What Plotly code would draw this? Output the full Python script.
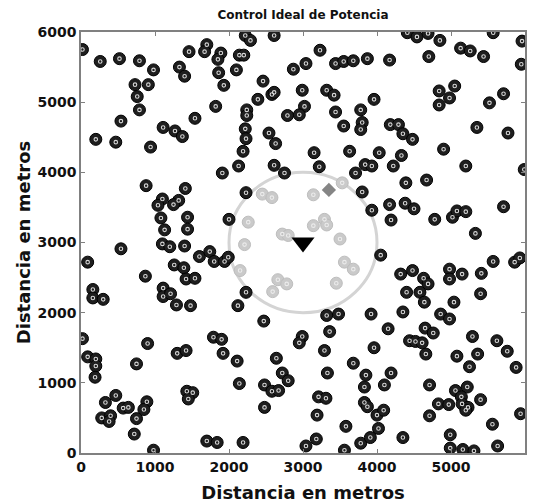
import plotly.graph_objects as go

# Usuarios fuera de la celda (negro)
users_x = [20,260,520,790,980,730,910,760,790,540,200,470,940,1110,1270,1370,1540,1820,1330,1400,1460,1700,1670,1890,1850,1860,1930,
           2220,2290,2610,2140,2200,2100,3230,3040,2870,3440,3550,3680,3870,2460,2580,2610,2390,2990,3320,3420,3960,2240,2240,3020,2950,2790,3440,3780,3800,3780,3550,2220,2230,2540,2630,2190,3150,3630,4030,2130,2610,3220,3840,3930,
           4410,4540,4690,4850,5570,5960,5950,5130,5260,5440,4700,4170,4840,5050,4980,4840,5520,5710,4180,4290,4350,4480,5350,5770,4330,4900,4220,5200,5990,
           1910,880,1410,1100,1040,1320,1250,1080,1440,2000,1130,1440,540,90,1100,1200,1400,1600,1740,1800,1940,1990,1260,1390,1420,1540,870,160,160,300,1110,1110,1210,1290,1480,
           2750,3710,2230,3800,3930,4050,2230,2120,
           4390,4670,4170,4380,4500,4190,4780,5020,5080,5200,5710,5330,5570,5860,5930,4320,4480,4630,4690,4980,4980,5150,5410,4400,4580,4640,5040,5400,
           20,90,200,200,190,900,750,1300,1420,1790,1900,1920,470,330,570,640,890,850,280,400,380,750,720,980,1430,1510,1450,1700,1840,
           2470,3320,3480,3920,3360,2990,2950,2110,2640,3290,3960,3680,2720,2800,3330,3850,2140,2480,2580,2670,3830,3210,3310,3830,3870,2480,3190,4000,3580,4020,2190,3040,3180,3780,3910,3560,
           4350,4860,4980,4150,4650,4760,4440,4520,4610,5290,5620,5760,5360,5080,4660,5250,5880,4190,4100,4710,5060,5220,5140,4830,4970,5150,5230,5200,5400,5940,5560,4090,4710,4350,4990,4990,5160,5310,5630]
users_y = [5750,5580,5620,5590,5460,5250,5250,5080,4890,4730,4470,4430,4360,4640,4590,4510,4770,4940,5500,5370,5720,5820,5720,5700,5610,5420,5240,
           5950,5880,5950,5670,5670,5460,5740,5550,5470,5550,5580,5590,5620,5300,5110,5140,5040,5170,5170,5100,5040,4890,4810,4940,4820,4810,4860,4890,4710,4610,4660,4620,4480,4560,4410,4300,4280,4300,4280,4090,4100,4080,4110,4090,
           5990,5930,5980,5880,5990,5870,5540,5770,5730,5650,5650,5600,5160,5230,5060,4960,4990,5120,4680,4680,4550,4470,4640,4560,4240,4330,4090,4090,4040,
           3990,3810,3770,3620,3530,3600,3540,3350,3360,3330,3180,3190,2910,2720,2980,2940,2950,2800,2870,2730,2730,2790,2680,2640,2480,2490,2520,2330,2210,2190,2350,2230,2270,2110,2100,
           3990,3990,3710,3720,3460,2820,2290,2100,
           3850,3890,3540,3560,3480,3320,3330,3360,3450,3440,3510,3130,2730,2720,2780,2550,2600,2490,2410,2620,2480,2550,2560,2290,2290,2150,2150,2270,
           1630,1370,1340,1240,1080,1560,1270,1420,1460,1650,1620,1420,820,720,640,650,730,620,500,530,450,490,270,40,880,860,770,170,150,
           1880,1960,1980,1980,1730,1660,1570,1310,1350,1460,1500,1280,1140,1030,1140,1110,990,970,880,890,940,800,780,720,660,650,540,540,380,350,150,100,200,140,220,40,
           2010,1980,1910,1770,1780,1710,1600,1590,1570,1660,1600,1450,1410,1380,1410,1230,1220,1140,970,970,890,940,800,700,690,700,650,610,760,560,410,610,530,220,260,70,50,30,100]

# Usuarios dentro de la celda (gris claro)
cell_x = [2450,2580,3140,3530,2260,3140,3290,3320,2720,2800,2210,3500,2150,3560,3680,2660,2780,2590,3450]
cell_y = [3690,3640,3680,3850,3290,3240,3330,3250,3120,3100,2970,3050,2600,2720,2620,2470,2410,2300,2420]

# Estación base y usuario de referencia
bs_x, bs_y = [3000], [3000]
ref_x, ref_y = [3350], [3750]
cell_radius = 1000

tick_vals = [0, 1000, 2000, 3000, 4000, 5000, 6000]
tick_text = ["0", "1000", "2000", "3000", "4000", "5000", "6000"]

FONT = "DejaVu Sans"

fig = go.Figure()

fig.add_shape(type="circle", xref="x", yref="y",
              x0=bs_x[0]-cell_radius, x1=bs_x[0]+cell_radius,
              y0=bs_y[0]-cell_radius, y1=bs_y[0]+cell_radius,
              line=dict(color="#d4d4d4", width=3), layer="below")

fig.add_trace(go.Scatter(x=users_x, y=users_y, mode="markers",
                         marker=dict(size=12, color="#1e1e1e", line=dict(color="#000", width=1)),
                         showlegend=False, hoverinfo="skip"))
fig.add_trace(go.Scatter(x=users_x, y=users_y, mode="markers",
                         marker=dict(symbol="circle-open", size=3.5, color="#d9d9d9", line=dict(color="#d9d9d9", width=1.1)),
                         showlegend=False, hoverinfo="skip"))
fig.add_trace(go.Scatter(x=cell_x, y=cell_y, mode="markers",
                         marker=dict(size=12, color="#cacaca", line=dict(color="#bdbdbd", width=1)),
                         showlegend=False, hoverinfo="skip"))
fig.add_trace(go.Scatter(x=cell_x, y=cell_y, mode="markers",
                         marker=dict(symbol="circle-open", size=3.5, color="#ececec", line=dict(color="#ececec", width=1.1)),
                         showlegend=False, hoverinfo="skip"))
fig.add_trace(go.Scatter(x=ref_x, y=ref_y, mode="markers",
                         marker=dict(symbol="diamond", size=11, color="#858585"),
                         showlegend=False, hoverinfo="skip"))
fig.add_trace(go.Scatter(x=bs_x, y=bs_y, mode="markers",
                         marker=dict(symbol="triangle-down", size=20, color="#000"),
                         showlegend=False, hoverinfo="skip"))

axis_common = dict(range=[0, 6000], tickvals=tick_vals, ticktext=tick_text,
                   ticks="inside", ticklen=4, tickcolor="#808080", automargin=False,
                   showline=True, linecolor="#808080", linewidth=1.5, mirror="allticks",
                   showgrid=False, zeroline=False,
                   tickfont=dict(family=FONT, size=14, color="#111", weight="bold"))

# The page body adds an 8 px offset; the figure is sized to compensate.
W, H = 534, 495
fig.update_layout(
    width=W, height=H,
    margin=dict(l=73, r=17, t=24, b=50, autoexpand=False),
    paper_bgcolor="white", plot_bgcolor="white",
    title=dict(text="Control Ideal de Potencia", x=0.5, xanchor="center", xref="paper",
               y=1-7/H, yref="container", yanchor="middle",
               font=dict(family=FONT, size=12, color="#111", weight="bold")),
    xaxis=dict(**axis_common, title=dict(text="Distancia en metros", standoff=18,
               font=dict(family=FONT, size=18, color="#111", weight="bold"))),
    yaxis=dict(**axis_common, title=dict(text="Distancia en metros", standoff=2,
               font=dict(family=FONT, size=18, color="#111", weight="bold"))),
)

fig.write_html("out.html")
